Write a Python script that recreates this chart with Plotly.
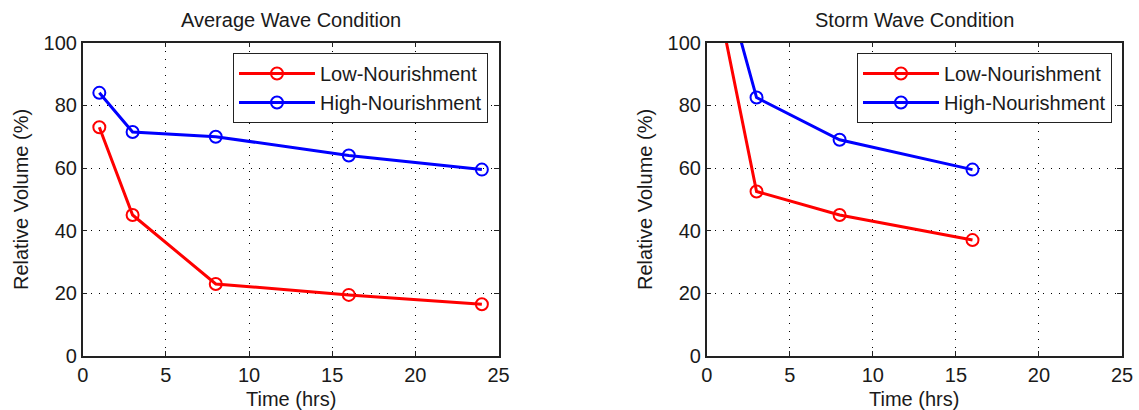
import plotly.graph_objects as go

# ---- data ----
avg_time = [1, 3, 8, 16, 24]
avg_low = [73, 45, 23, 19.5, 16.5]
avg_high = [84, 71.5, 70, 64, 59.5]

storm_time = [1, 3, 8, 16]
storm_low = [105, 52.5, 45, 37]
storm_high = [121, 82.5, 69, 59.5]

titles = ["Average Wave Condition", "Storm Wave Condition"]
series_names = ["Low-Nourishment", "High-Nourishment"]
x_title = "Time (hrs)"
y_title = "Relative Volume (%)"
x_ticks = [0, 5, 10, 15, 20, 25]
y_ticks = [0, 20, 40, 60, 80, 100]

RED = "#ff0000"
BLUE = "#0000ff"
TXT = "#1a1a1a"
FONT = "Liberation Sans, Arial, sans-serif"
FS = 20

W, H = 1139, 410
left_dom = [82.7 / W, 498.5 / W]
right_dom = [706.7 / W, 1122 / W]
y_dom = [1 - 356 / H, 1 - 42.7 / H]

fig = go.Figure()


def add_series(x, y, name, color, xa, ya, legend):
    fig.add_trace(go.Scatter(
        x=x, y=y, name=name, mode="lines+markers",
        line=dict(color=color, width=3),
        marker=dict(symbol="circle-open", size=12, color=color, line=dict(width=2, color=color)),
        xaxis=xa, yaxis=ya, legend=legend, cliponaxis=True,
    ))


add_series(avg_time, avg_low, series_names[0], RED, "x", "y", "legend")
add_series(avg_time, avg_high, series_names[1], BLUE, "x", "y", "legend")
add_series(storm_time, storm_low, series_names[0], RED, "x2", "y2", "legend2")
add_series(storm_time, storm_high, series_names[1], BLUE, "x2", "y2", "legend2")

grid_dash = "1px,7px"
tickfont = dict(size=FS, color=TXT, family=FONT)
common_x = dict(range=[0, 25], tickvals=x_ticks, showgrid=True, gridcolor="black",
                griddash=grid_dash, gridwidth=1, zeroline=False, showline=True,
                linecolor="#222", linewidth=1.5, mirror="ticks", ticks="inside",
                ticklen=5, tickcolor="#222", automargin=False, tickfont=tickfont)
common_y = dict(range=[0, 100], tickvals=y_ticks, showgrid=True, gridcolor="black",
                griddash=grid_dash, gridwidth=1, zeroline=False, showline=True,
                linecolor="#222", linewidth=1.5, mirror="ticks", ticks="inside",
                ticklen=5, tickcolor="#222", automargin=False, tickfont=tickfont)

legend_common = dict(bgcolor="white", bordercolor="#222", borderwidth=1,
                     font=dict(size=FS, color=TXT, family=FONT),
                     xanchor="right", yanchor="top", y=1 - 53 / H, itemwidth=76,
                     tracegroupgap=0)

annotations = []
for dom, t in zip([left_dom, right_dom], titles):
    cx = sum(dom) / 2
    annotations.append(dict(text=t, xref="paper", yref="paper", x=cx, y=1 - 20 / H,
                            xanchor="center", yanchor="middle", showarrow=False,
                            font=dict(size=FS, color=TXT, family=FONT)))
    annotations.append(dict(text=x_title, xref="paper", yref="paper", x=cx, y=1 - 399 / H,
                            xanchor="center", yanchor="middle", showarrow=False,
                            font=dict(size=FS, color=TXT, family=FONT)))
    annotations.append(dict(text=y_title, xref="paper", yref="paper",
                            x=(dom[0] * W - 61) / W, y=sum(y_dom) / 2,
                            xanchor="center", yanchor="middle", showarrow=False, textangle=-90,
                            font=dict(size=FS, color=TXT, family=FONT)))

fig.update_layout(
    width=W, height=H,
    margin=dict(l=0, r=0, t=0, b=0),
    paper_bgcolor="white", plot_bgcolor="white",
    font=dict(family=FONT, size=FS, color=TXT),
    showlegend=True,
    xaxis=dict(domain=left_dom, anchor="y", **common_x),
    yaxis=dict(domain=y_dom, anchor="x", **common_y),
    xaxis2=dict(domain=right_dom, anchor="y2", **common_x),
    yaxis2=dict(domain=y_dom, anchor="x2", **common_y),
    legend=dict(x=488 / W, **legend_common),
    legend2=dict(x=1112 / W, **legend_common),
    annotations=annotations,
)

fig.write_html("out.html")
